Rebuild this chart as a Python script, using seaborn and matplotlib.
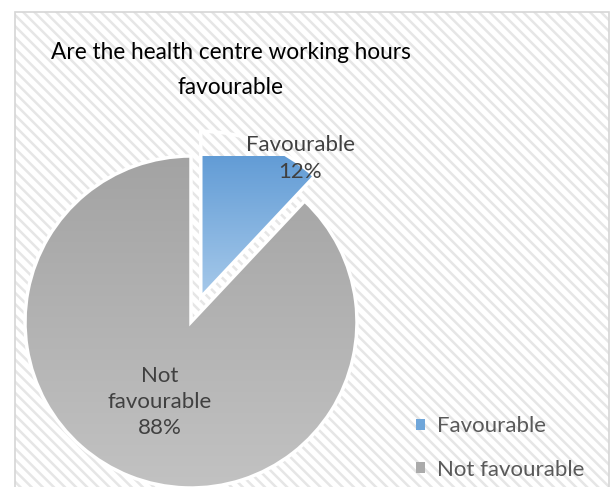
import numpy as np
import matplotlib
matplotlib.use("Agg")
import matplotlib.pyplot as plt
from matplotlib.patches import Rectangle, Patch
from matplotlib.colors import to_rgb
import seaborn as sns

# Survey answers
categories = ["Favourable", "Not favourable"]
shares = [12, 88]
title_lines = ["Are the health centre working hours", "favourable"]

# Gradient fills (top colour, bottom colour) per slice
grad_top = ["#5694d2", "#a3a3a3"]
grad_bottom = ["#a6c9ea", "#c2c2c2"]
legend_colors = ["#6fa6da", "#ababab"]

sns.set_theme(style="white")
plt.rcParams["font.family"] = ["Lato", "DejaVu Sans"]
plt.rcParams["hatch.linewidth"] = 1.8

W, H = 613, 487
fig = plt.figure(figsize=(W / 100, H / 100), dpi=100)
fig.patch.set_facecolor("white")

# Striped chart-area background
x0 = 15 / W
bg = Rectangle((x0, -0.01), (609 - 15) / W, (487 - 12) / H + 0.01,
               transform=fig.transFigure, facecolor="white",
               edgecolor="#e6e6e6", hatch="\\\\\\", linewidth=0, zorder=-2)
fig.patches.append(bg)
border = Rectangle((x0, -0.01), (609 - 15) / W, (487 - 12) / H + 0.01,
                   transform=fig.transFigure, facecolor="none",
                   edgecolor="#d6d6d6", linewidth=1.2, zorder=-1)
fig.patches.append(border)

# Pie axes: unit circle mapped to a 332 px square
cx, cy, r = 191, 322, 166
ax = fig.add_axes([(cx - r) / W, (H - cy - r) / H, 2 * r / W, 2 * r / H])
ax.set_axis_off()
ax.patch.set_visible(False)

wedges, _ = ax.pie(shares, startangle=90, counterclock=False,
                   explode=[0.16, 0.0], radius=1.0,
                   wedgeprops=dict(edgecolor="white", linewidth=2.5))

for w, ctop, cbot in zip(wedges, grad_top, grad_bottom):
    verts = w.get_path().vertices
    xmin, ymin = verts.min(axis=0)
    xmax, ymax = verts.max(axis=0)
    t = np.linspace(0, 1, 256)[:, None, None]
    img = (1 - t) * np.array(to_rgb(ctop)) + t * np.array(to_rgb(cbot))
    img = np.repeat(img, 2, axis=1)
    im = ax.imshow(img, extent=[xmin, xmax, ymin, ymax], origin="upper",
                   aspect="auto", zorder=1, interpolation="bilinear")
    im.set_clip_path(w)
    w.set_facecolor("none")
    w.set_zorder(2)
ax.set_xlim(-1, 1)
ax.set_ylim(-1, 1)

# Data labels
lab_col = "#404040"
ax.text(0.657, 0.985, f"{categories[0]}\n{shares[0]}%", ha="center", va="center",
        fontsize=16, color=lab_col, linespacing=1.4, zorder=5)
ax.text(-0.187, -0.482, f"Not\nfavourable\n{shares[1]}%", ha="center", va="center",
        fontsize=16, color=lab_col, linespacing=1.4, zorder=5)

# Title
fig.text(231 / W, 1 - 70 / H, "\n".join(title_lines), ha="center", va="center",
         fontsize=16.3, color="black", linespacing=1.85)

# Legend
handles = [Patch(facecolor=c, edgecolor="none") for c in legend_colors]
fig.legend(handles, categories, loc="center left",
           bbox_to_anchor=(396 / W, 1 - 448 / H), frameon=False,
           fontsize=16, labelcolor="#595959", handlelength=0.4,
           handleheight=0.4, handletextpad=0.55, labelspacing=1.05)

fig.savefig("out.png", dpi=100, facecolor="white")
